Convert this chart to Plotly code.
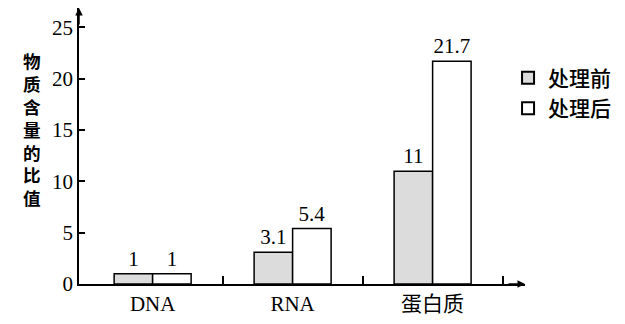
import plotly.graph_objects as go

categories = ["DNA", "RNA", "蛋白质"]
before_vals = [1, 3.1, 11]
after_vals = [1, 5.4, 21.7]
before_text = ["1", "3.1", "11"]
after_text = ["1", "5.4", "21.7"]
series_names = ["处理前", "处理后"]
y_tickvals = [0, 5, 10, 15, 20, 25]
y_title = "物质含量的比值"

FONT = "Liberation Serif, Noto Sans CJK SC, serif"
CJK = "Noto Sans CJK SC"
x_pos = list(range(len(categories)))

fig = go.Figure()
fig.add_trace(go.Bar(
    x=x_pos, y=before_vals, name=series_names[0],
    text=before_text, textposition="outside",
    textfont=dict(family=FONT, size=21, color="black"),
    marker=dict(color="#dcdcdc", line=dict(color="black", width=1.5)),
    cliponaxis=False,
))
fig.add_trace(go.Bar(
    x=x_pos, y=after_vals, name=series_names[1],
    text=after_text, textposition="outside",
    textfont=dict(family=FONT, size=21, color="black"),
    marker=dict(color="white", line=dict(color="black", width=1.5)),
    cliponaxis=False,
))

fig.update_layout(
    width=625, height=324,
    margin=dict(l=79, r=100, t=8, b=37, pad=0),
    paper_bgcolor="white", plot_bgcolor="white",
    barmode="group", bargap=0.45, bargroupgap=0,
    font=dict(family=FONT, size=21, color="black"),
    showlegend=True,
    legend=dict(
        x=0.962, y=0.82, xanchor="left", yanchor="top",
        font=dict(family=CJK, size=21, color="black", weight=500),
        bgcolor="rgba(0,0,0,0)", borderwidth=0,
        itemsizing="constant",
    ),
    xaxis=dict(
        range=[-0.526, 2.66],
        tickmode="array", tickvals=x_pos, ticktext=categories,
        ticks="", showline=True, linecolor="black", linewidth=1.5,
        showgrid=False, zeroline=False,
        tickfont=dict(family=FONT, size=21, color="black"),
        minor=dict(tickmode="array", tickvals=[0.5, 1.5, 2.5],
                   ticks="inside", ticklen=8, tickwidth=1.5, tickcolor="black",
                   showgrid=False),
    ),
    yaxis=dict(
        range=[0, 26.9],
        tickmode="array", tickvals=y_tickvals,
        ticks="inside", ticklen=6, tickwidth=1.5, tickcolor="black",
        showline=True, linecolor="black", linewidth=1.5,
        showgrid=False, zeroline=False,
        tickfont=dict(family=FONT, size=21, color="black"),
    ),
)

# vertical stacked y-axis title
fig.add_annotation(
    text="<br>".join(list(y_title)),
    xref="paper", yref="paper", x=-0.106, y=0.562,
    xanchor="center", yanchor="middle", showarrow=False,
    font=dict(family=CJK, size=17.6, color="black", weight="bold"),
)
# axis arrows
fig.add_annotation(
    xref="x domain", yref="y domain", x=1, y=0, ax=-18, ay=0,
    text="", showarrow=True, arrowhead=2, arrowsize=1, arrowwidth=1.5,
    arrowcolor="black",
)
fig.add_annotation(
    xref="x domain", yref="y domain", x=0, y=1, ax=0, ay=18,
    text="", showarrow=True, arrowhead=2, arrowsize=1, arrowwidth=1.5,
    arrowcolor="black",
)

fig.write_html("out.html")
